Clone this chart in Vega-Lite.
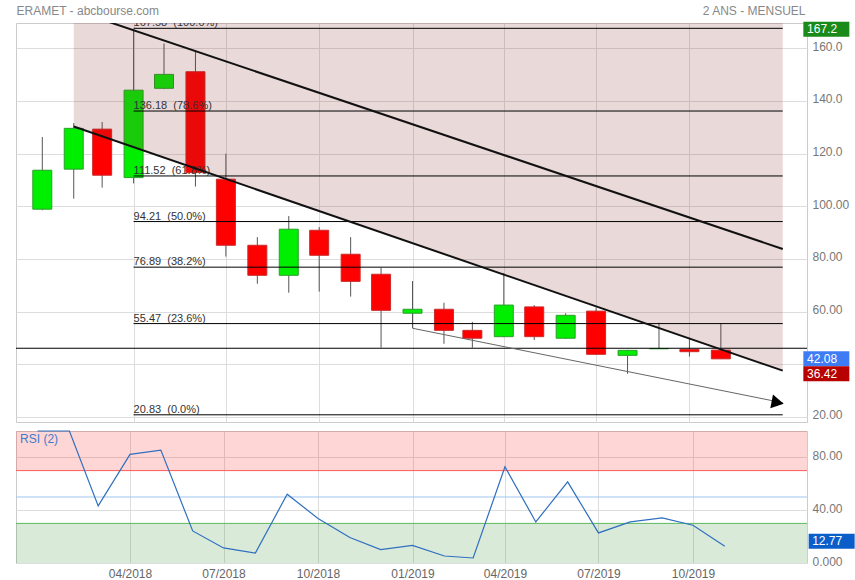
{
  "$schema": "https://vega.github.io/schema/vega-lite/v6.json",
  "padding": {"left": 15, "top": 3, "right": 0, "bottom": 0},
  "spacing": 5,
  "config": {
    "font": "Liberation Sans",
    "view": {"stroke": "#cccccc"},
    "axis": {"gridColor": "#dddddd", "labelFont": "Liberation Sans", "labelFontSize": 12, "labelColor": "#777777", "ticks": false, "domain": false, "titleFont": "Liberation Sans"}
  },
  "datasets": {
    "candles": [
      {"date":"2018-01-01","open":98.9,"high":126.3,"low":98.5,"close":113.7},
      {"date":"2018-02-01","open":114.1,"high":131.6,"low":102.9,"close":129.6},
      {"date":"2018-03-01","open":129.3,"high":132.0,"low":107.1,"close":111.8},
      {"date":"2018-04-01","open":110.9,"high":167.2,"low":108.7,"close":144.1},
      {"date":"2018-05-01","open":144.8,"high":161.8,"low":144.5,"close":150.1},
      {"date":"2018-06-01","open":151.1,"high":159.0,"low":107.5,"close":112.8},
      {"date":"2018-07-01","open":110.3,"high":120.0,"low":80.9,"close":85.2},
      {"date":"2018-08-01","open":85.2,"high":88.3,"low":70.6,"close":73.8},
      {"date":"2018-09-01","open":73.8,"high":96.3,"low":67.2,"close":91.3},
      {"date":"2018-10-01","open":90.9,"high":92.1,"low":67.6,"close":81.4},
      {"date":"2018-11-01","open":81.8,"high":88.3,"low":65.7,"close":71.5},
      {"date":"2018-12-01","open":74.2,"high":76.7,"low":46.3,"close":60.5},
      {"date":"2019-01-01","open":59.4,"high":71.6,"low":53.7,"close":60.9},
      {"date":"2019-02-01","open":60.9,"high":63.4,"low":47.8,"close":52.9},
      {"date":"2019-03-01","open":52.9,"high":56.1,"low":46.3,"close":49.9},
      {"date":"2019-04-01","open":50.5,"high":74.7,"low":50.3,"close":62.5},
      {"date":"2019-05-01","open":61.8,"high":62.5,"low":49.2,"close":50.5},
      {"date":"2019-06-01","open":49.9,"high":59.4,"low":49.7,"close":58.6},
      {"date":"2019-07-01","open":60.2,"high":61.5,"low":43.6,"close":43.8},
      {"date":"2019-08-01","open":43.4,"high":45.5,"low":36.42,"close":45.3},
      {"date":"2019-09-01","open":45.9,"high":55.8,"low":45.8,"close":46.0},
      {"date":"2019-10-01","open":45.7,"high":50.1,"low":42.9,"close":44.8},
      {"date":"2019-11-01","open":45.4,"high":55.4,"low":42.0,"close":42.08}
    ],
    "rsi": [
      {"date":"2018-01-01","rsi":100},
      {"date":"2018-02-01","rsi":100},
      {"date":"2018-03-01","rsi":43.3},
      {"date":"2018-04-01","rsi":82.3},
      {"date":"2018-05-01","rsi":85.5},
      {"date":"2018-06-01","rsi":24.3},
      {"date":"2018-07-01","rsi":11.4},
      {"date":"2018-08-01","rsi":7.6},
      {"date":"2018-09-01","rsi":52.1},
      {"date":"2018-10-01","rsi":33.7},
      {"date":"2018-11-01","rsi":19.3},
      {"date":"2018-12-01","rsi":10.2},
      {"date":"2019-01-01","rsi":13.4},
      {"date":"2019-02-01","rsi":5.3},
      {"date":"2019-03-01","rsi":3.8},
      {"date":"2019-04-01","rsi":72.9},
      {"date":"2019-05-01","rsi":31.1},
      {"date":"2019-06-01","rsi":61.5},
      {"date":"2019-07-01","rsi":22.8},
      {"date":"2019-08-01","rsi":31.1},
      {"date":"2019-09-01","rsi":34.2},
      {"date":"2019-10-01","rsi":28.6},
      {"date":"2019-11-01","rsi":12.77}
    ],
    "fib": [
      {"start":"2018-04-01","end":"2020-01-01","v":167.58,"label":"167.58 \u00a0(100.0%)"},
      {"start":"2018-04-01","end":"2020-01-01","v":136.18,"label":"136.18 \u00a0(78.6%)"},
      {"start":"2018-04-01","end":"2020-01-01","v":111.52,"label":"111.52 \u00a0(61.8%)"},
      {"start":"2018-04-01","end":"2020-01-01","v":94.21,"label":"94.21 \u00a0(50.0%)"},
      {"start":"2018-04-01","end":"2020-01-01","v":76.89,"label":"76.89 \u00a0(38.2%)"},
      {"start":"2018-04-01","end":"2020-01-01","v":55.47,"label":"55.47 \u00a0(23.6%)"},
      {"start":"2018-04-01","end":"2020-01-01","v":20.83,"label":"20.83 \u00a0(0.0%)"}
    ],
    "channel": [
      {"date":"2018-02-01","lower":130.3,"upper":174.5},
      {"date":"2020-01-01","lower":37.6,"upper":83.8}
    ],
    "trend": [
      {"date":"2019-01-01","v":53.7},
      {"date":"2020-01-01","v":25.4}
    ],
    "arrow": [
      {"date":"2019-12-27","v":25.5}
    ],
    "levels": [
      {"v":46.1}
    ],
    "boxes": [
      {"v":167.2,"label":"167.2","kind":"high"},
      {"v":42.08,"label":"42.08","kind":"last"},
      {"v":36.42,"label":"36.42","kind":"low"}
    ],
    "rsizones": [
      {"lo":70,"hi":100,"zone":"over"},
      {"lo":0,"hi":30,"zone":"under"}
    ],
    "rsilevels": [
      {"v":70,"level":"70"},
      {"v":50,"level":"50"},
      {"v":30,"level":"30"}
    ],
    "rsititle": [
      {"date":"2017-12-15","v":94,"label":"RSI (2)"}
    ],
    "rsibox": [
      {"v":12.77,"label":"12.77"}
    ]
  },
  "vconcat": [
    {
      "width": 791,
      "height": 399,
      "layer": [
        {
          "data": {"name": "candles"},
          "mark": {"type": "rule", "color": "#555555", "strokeWidth": 1},
          "encoding": {
            "x": {
              "field": "date", "type": "temporal",
              "scale": {"type": "utc", "domain": [{"year":2017,"month":12,"date":11,"utc":true},{"year":2020,"month":1,"date":20,"utc":true}]},
              "axis": {
                "orient": "top", "labels": false, "grid": true,
                "values": [{"year":2018,"month":4,"date":1,"utc":true},{"year":2018,"month":7,"date":1,"utc":true},{"year":2018,"month":10,"date":1,"utc":true},{"year":2019,"month":1,"date":1,"utc":true},{"year":2019,"month":4,"date":1,"utc":true},{"year":2019,"month":7,"date":1,"utc":true},{"year":2019,"month":10,"date":1,"utc":true}],
                "title": "ERAMET - abcbourse.com", "titleX": 0, "titleY": -13, "titleAlign": "left", "titleBaseline": "middle",
                "titleFontSize": 12, "titleFontWeight": "normal", "titleColor": "#888888"
              }
            },
            "y": {
              "field": "low", "type": "quantitative",
              "scale": {"domain": [18.1, 169.6], "nice": false, "zero": false},
              "axis": {
                "orient": "right", "grid": true, "values": [20, 40, 60, 80, 100, 120, 140, 160],
                "labelExpr": "datum.value == 40 ? '' : (datum.value >= 120 ? format(datum.value, '.1f') : format(datum.value, '.2f'))",
                "labelPadding": 5, "labelOffset": -2,
                "title": "2 ANS - MENSUEL", "titleAngle": 0, "titleX": -2, "titleY": -13, "titleAlign": "right", "titleBaseline": "middle",
                "titleFontSize": 12, "titleFontWeight": "normal", "titleColor": "#888888"
              }
            },
            "y2": {"field": "high"}
          }
        },
        {
          "data": {"name": "candles"},
          "mark": {"type": "bar", "width": 19, "strokeWidth": 1},
          "encoding": {
            "x": {"field": "date", "type": "temporal"},
            "y": {"field": "open", "type": "quantitative"},
            "y2": {"field": "close"},
            "color": {"condition": {"test": "datum.close >= datum.open", "value": "#00ee00"}, "value": "#ff0000"},
            "stroke": {"condition": {"test": "datum.close >= datum.open", "value": "#2aa02a"}, "value": "#cc2a2a"}
          }
        },
        {
          "data": {"name": "channel"},
          "mark": {"type": "area", "color": "#8b2a2a", "opacity": 0.18, "clip": true},
          "encoding": {
            "x": {"field": "date", "type": "temporal"},
            "y": {"field": "lower", "type": "quantitative"},
            "y2": {"datum": 180}
          }
        },
        {
          "data": {"name": "fib"},
          "mark": {"type": "rule", "color": "#000000", "strokeWidth": 1},
          "encoding": {
            "x": {"field": "start", "type": "temporal"},
            "x2": {"field": "end"},
            "y": {"field": "v", "type": "quantitative"}
          }
        },
        {
          "data": {"name": "fib"},
          "mark": {"type": "text", "align": "left", "baseline": "alphabetic", "dy": -2, "fontSize": 11, "color": "#333333", "clip": true},
          "encoding": {
            "x": {"field": "start", "type": "temporal"},
            "y": {"field": "v", "type": "quantitative"},
            "text": {"field": "label"}
          }
        },
        {
          "data": {"name": "levels"},
          "mark": {"type": "rule", "color": "#000000", "strokeWidth": 1},
          "encoding": {
            "y": {"field": "v", "type": "quantitative"}
          }
        },
        {
          "data": {"name": "channel"},
          "mark": {"type": "line", "color": "#111111", "strokeWidth": 2, "clip": true},
          "encoding": {
            "x": {"field": "date", "type": "temporal"},
            "y": {"field": "lower", "type": "quantitative"}
          }
        },
        {
          "data": {"name": "channel"},
          "mark": {"type": "line", "color": "#111111", "strokeWidth": 2, "clip": true},
          "encoding": {
            "x": {"field": "date", "type": "temporal"},
            "y": {"field": "upper", "type": "quantitative"}
          }
        },
        {
          "data": {"name": "trend"},
          "mark": {"type": "line", "color": "#666666", "strokeWidth": 1},
          "encoding": {
            "x": {"field": "date", "type": "temporal"},
            "y": {"field": "v", "type": "quantitative"}
          }
        },
        {
          "data": {"name": "arrow"},
          "mark": {"type": "point", "shape": "triangle-right", "filled": true, "color": "#000000", "opacity": 1, "size": 200, "angle": 11},
          "encoding": {
            "x": {"field": "date", "type": "temporal"},
            "y": {"field": "v", "type": "quantitative"}
          }
        },
        {
          "data": {"name": "boxes"},
          "mark": {"type": "tick", "orient": "horizontal", "size": 46, "thickness": 15, "opacity": 1},
          "encoding": {
            "x": {"datum": {"year":2020,"month":2,"date":13,"utc":true}, "type": "temporal"},
            "y": {"field": "v", "type": "quantitative"},
            "color": {"field": "kind", "type": "nominal", "scale": {"domain": ["high","last","low"], "range": ["#1a8a1a","#3d7cf5","#b80000"]}, "legend": null}
          }
        },
        {
          "data": {"name": "boxes"},
          "mark": {"type": "text", "align": "left", "baseline": "middle", "fontSize": 12, "color": "#ffffff"},
          "encoding": {
            "x": {"datum": {"year":2020,"month":1,"date":25,"utc":true}, "type": "temporal"},
            "y": {"field": "v", "type": "quantitative"},
            "text": {"field": "label"}
          }
        }
      ]
    },
    {
      "width": 791,
      "height": 132,
      "layer": [
        {
          "data": {"name": "rsizones"},
          "transform": [{"filter": "datum.zone == 'over'"}],
          "mark": {"type": "rect", "color": "#ff0000", "opacity": 0.16},
          "encoding": {
            "y": {
              "field": "lo", "type": "quantitative",
              "scale": {"domain": [0, 100], "nice": false},
              "axis": {
                "orient": "right", "grid": true, "values": [0, 40, 80],
                "labelExpr": "datum.value == 0 ? '0.000' : format(datum.value, '.2f')",
                "labelPadding": 5, "labelOffset": -2, "title": null
              }
            },
            "y2": {"field": "hi"}
          }
        },
        {
          "data": {"name": "rsizones"},
          "transform": [{"filter": "datum.zone == 'under'"}],
          "mark": {"type": "rect", "color": "#2e8b2e", "opacity": 0.18},
          "encoding": {
            "y": {"field": "lo", "type": "quantitative"},
            "y2": {"field": "hi"}
          }
        },
        {
          "data": {"name": "rsilevels"},
          "transform": [{"filter": "datum.level == '70'"}],
          "mark": {"type": "rule", "strokeWidth": 1, "color": "#ff5a5a"},
          "encoding": {"y": {"field": "v", "type": "quantitative"}}
        },
        {
          "data": {"name": "rsilevels"},
          "transform": [{"filter": "datum.level == '50'"}],
          "mark": {"type": "rule", "strokeWidth": 1, "color": "#9fc5f0"},
          "encoding": {"y": {"field": "v", "type": "quantitative"}}
        },
        {
          "data": {"name": "rsilevels"},
          "transform": [{"filter": "datum.level == '30'"}],
          "mark": {"type": "rule", "strokeWidth": 1, "color": "#5cb85c"},
          "encoding": {"y": {"field": "v", "type": "quantitative"}}
        },
        {
          "data": {"name": "rsi"},
          "mark": {"type": "line", "color": "#2f6fbf", "strokeWidth": 1.2},
          "encoding": {
            "x": {
              "field": "date", "type": "temporal",
              "scale": {"type": "utc", "domain": [{"year":2017,"month":12,"date":11,"utc":true},{"year":2020,"month":1,"date":20,"utc":true}]},
              "axis": {
                "orient": "bottom", "grid": true, "format": "%m/%Y", "labelPadding": 5, "labelColor": "#666666", "title": null,
                "values": [{"year":2018,"month":4,"date":1,"utc":true},{"year":2018,"month":7,"date":1,"utc":true},{"year":2018,"month":10,"date":1,"utc":true},{"year":2019,"month":1,"date":1,"utc":true},{"year":2019,"month":4,"date":1,"utc":true},{"year":2019,"month":7,"date":1,"utc":true},{"year":2019,"month":10,"date":1,"utc":true}]
              }
            },
            "y": {"field": "rsi", "type": "quantitative"}
          }
        },
        {
          "data": {"name": "rsititle"},
          "mark": {"type": "text", "align": "left", "baseline": "middle", "fontSize": 12, "color": "#3d7cc9"},
          "encoding": {
            "x": {"field": "date", "type": "temporal"},
            "y": {"field": "v", "type": "quantitative"},
            "text": {"field": "label"}
          }
        },
        {
          "data": {"name": "rsibox"},
          "mark": {"type": "tick", "orient": "horizontal", "size": 46, "thickness": 15, "opacity": 1, "color": "#0b5ec9", "yOffset": -5},
          "encoding": {
            "x": {"datum": {"year":2020,"month":2,"date":13,"utc":true}, "type": "temporal"},
            "y": {"field": "v", "type": "quantitative"}
          }
        },
        {
          "data": {"name": "rsibox"},
          "mark": {"type": "text", "align": "left", "baseline": "middle", "fontSize": 12, "color": "#ffffff", "yOffset": -5},
          "encoding": {
            "x": {"datum": {"year":2020,"month":1,"date":25,"utc":true}, "type": "temporal"},
            "y": {"field": "v", "type": "quantitative"},
            "text": {"field": "label"}
          }
        }
      ]
    }
  ]
}
